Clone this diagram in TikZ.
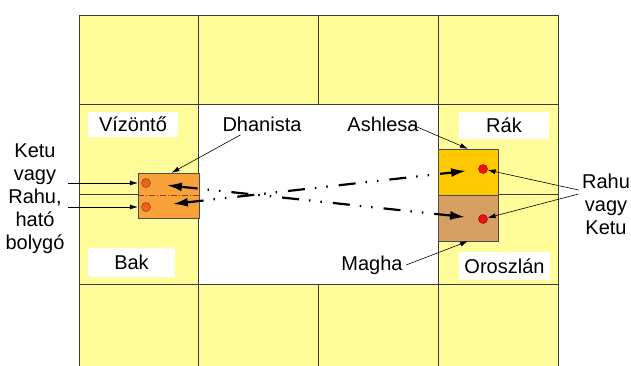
\documentclass[tikz,border=0pt]{standalone}
\usepackage{fontspec}
\setmainfont{Liberation Sans}
\usetikzlibrary{arrows.meta}
\usetikzlibrary{calc}

\definecolor{cellyellow}{HTML}{FFFD99}
\definecolor{gridline}{HTML}{3A3A3A}
\definecolor{bakorange}{HTML}{F9A23C}
\definecolor{rakgold}{HTML}{FFC800}
\definecolor{orotan}{HTML}{D5A062}
\definecolor{dotorange}{HTML}{F0631E}
\definecolor{dotred}{HTML}{F01010}

\tikzset{
  cell/.style={draw=gridline, fill=cellyellow, line width=0.8pt},
  signlabel/.style={fill=white, inner sep=0pt},
  housebox/.style={draw=black!70, inner sep=0pt, minimum width=60pt, minimum height=46pt},
  planetdot/.style={circle, inner sep=0pt, minimum size=9pt},
  pointer/.style={-{Latex[length=8pt,width=5pt]}, line width=0.6pt},
  crossarrow/.style={{Latex[length=15pt,width=9pt]}-{Latex[length=15pt,width=9pt]}, line width=2.2pt,
    dash pattern=on 17pt off 10pt on 1.5pt off 10pt on 1.5pt off 11pt},
}

\begin{document}
\begin{tikzpicture}[x=1pt, y=-1pt, font=\fontsize{20}{23}\selectfont]
          \clip (0,0) rectangle (631,365);

          \draw [cell] (79,15) rectangle (198,104); % Draws a rectangle
          \draw [cell] (198,15) rectangle (318,104); % Draws a rectangle
          \draw [cell] (318,15) rectangle (438,104); % Draws a rectangle
          \draw [cell] (438,15) rectangle (558,104); % Draws a rectangle

          \draw [cell] (79,104) rectangle (198,194); % Draws a rectangle
          \draw [cell] (79,194) rectangle (198,284); % Draws a rectangle
          \draw [cell, fill=white] (198,104) rectangle (438,284); % Draws a rectangle
          \draw [cell] (438,104) rectangle (558,194); % Draws a rectangle
          \draw [cell] (438,194) rectangle (558,284); % Draws a rectangle

          \draw [cell] (79,284) rectangle (198,374); % Draws a rectangle
          \draw [cell] (198,284) rectangle (318,374); % Draws a rectangle
          \draw [cell] (318,284) rectangle (438,374); % Draws a rectangle
          \draw [cell] (438,284) rectangle (558,374); % Draws a rectangle

          \node [signlabel, minimum width=90pt, minimum height=25pt] (vizonto) at (133,124.5) {Vízöntő};
          \node [signlabel, minimum width=87pt, minimum height=29pt] (bak) at (131.5,262.5) {Bak};
          \node [signlabel, minimum width=90pt, minimum height=27pt] (rak) at (504,125.5) {Rák};
          \node [signlabel, minimum width=91pt, minimum height=28pt] (oroszlan) at (504.5,266) {Oroszlán};

          \node [housebox, fill=bakorange, minimum width=61pt, minimum height=45pt] (lbox) at (168.5,195.5) {};
          \draw [draw=orange!55!black, line width=0.8pt, dash pattern=on 6pt off 2pt on 1pt off 2pt] (lbox.west) -- (lbox.east);
          \node [housebox, fill=rakgold] (rboxA) at (468,172) {};
          \node [housebox, fill=orotan] (rboxB) at (468,218) {};

          \node [planetdot, fill=dotorange, draw=orange!40!black] (ldotA) at (146,183) {};
          \node [planetdot, fill=dotorange, draw=orange!40!black] (ldotB) at (146,207) {};
          \node [planetdot, fill=dotred, draw=red!50!black] (rdotA) at (483,169) {};
          \node [planetdot, fill=dotred, draw=red!50!black] (rdotB) at (483,219) {};

          \node (dhan) at (262,124) {Dhanista};
          \node (ashl) at (383,124) {Ashlesa};
          \node (magha) at (372,265) {Magha};
          \node [align=center] (ketu) at (35,199) {Ketu\\vagy\\Rahu,\\ható\\bolygó};
          \node [align=center] (rahu) at (606,204) {Rahu\\vagy\\Ketu};

          \draw [pointer] ($(dhan.south)!0.5!(dhan.south west)$) to ([xshift=3pt]lbox.north);
          \draw [pointer] ([xshift=-12pt]ashl.east) to (rboxA.north);
          \draw [pointer] (magha.east) to (rboxB.south);

          \draw [pointer] (ketu.east |- ldotA) to (lbox.west |- ldotA);
          \draw [pointer] (ketu.east |- ldotB) to (lbox.west |- ldotB);

          \draw [pointer] ([yshift=14pt]rahu.west) to (rdotA);
          \draw [pointer] ([yshift=10pt]rahu.west) to (rdotB);

          \draw [crossarrow, shorten <=21pt, shorten >=18pt] (ldotA.center) to (rdotB.center);
          \draw [crossarrow, shorten <=27pt, shorten >=17pt] (ldotB.center) to (rdotA.center);
        \end{tikzpicture}
\end{document}
